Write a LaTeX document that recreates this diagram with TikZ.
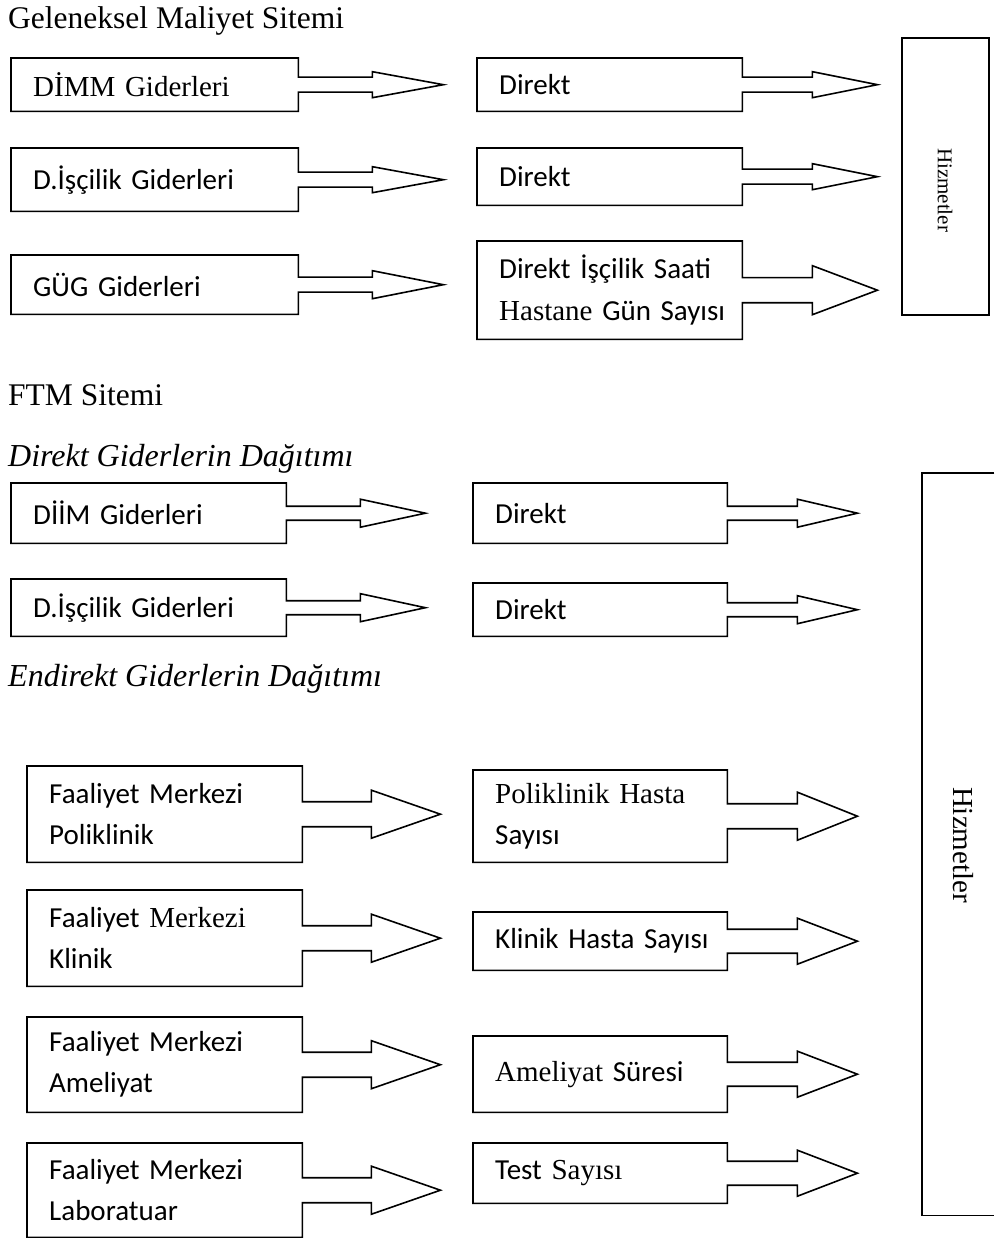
\documentclass[tikz,border=0pt]{standalone}
\usepackage{fontspec}
\setmainfont{Liberation Serif}
\setsansfont{Carlito}
\newcommand\oneline[1]{\mbox{#1}}
\begin{document}
\begin{tikzpicture}[x=1pt,y=-1pt,
  outline/.style={line width=1.6pt, line join=miter},
  box/.style={rectangle, draw=none, inner xsep=22pt, inner ysep=0pt,
    anchor=north west, align=left,
    font=\fontsize{29}{41}\selectfont\sffamily},
  title/.style={anchor=base west, inner sep=0pt,
    font=\fontsize{31.5}{36}\selectfont\rmfamily},
  ititle/.style={title, font=\fontsize{32}{36}\selectfont\rmfamily\itshape},
  hiz/.style={rotate=-90, inner sep=0pt, font=\rmfamily}]

\useasboundingbox (0,0) rectangle (994,1238);
\fill[white] (0,0) rectangle (994,1238);

% box outline with a block arrow leaving its right side:
% #1 node, #2 shaft half-height, #3 head half-height, #4 shaft length, #5 tip distance
\newcommand\callout[5]{%
  \draw[outline] (#1.north west) -- (#1.north east)
    -- ([yshift=#2pt]#1.east) -- ([xshift=#4pt,yshift=#2pt]#1.east)
    -- ([xshift=#4pt,yshift=#3pt]#1.east) -- ([xshift=#5pt]#1.east)
    -- ([xshift=#4pt,yshift=-#3pt]#1.east) -- ([xshift=#4pt,yshift=-#2pt]#1.east)
    -- ([yshift=-#2pt]#1.east) -- (#1.south east) -- (#1.south west) -- cycle;}

% ---------------- Geleneksel Maliyet Sitemi ----------------
\node[title] (t1) at (8,29) {Geleneksel Maliyet Sitemi};

\node[box, text width=243, minimum height=53] (a1) at (11,58) {\oneline{\rmfamily DİMM Giderleri}};
\node[box, text width=243, minimum height=63] (a2) at (11,148) {\oneline{D.İşçilik Giderleri}};
\node[box, text width=243, minimum height=59] (a3) at (11,255) {\oneline{GÜG Giderleri}};
\callout{a1}{7.5}{13}{74}{145}
\callout{a2}{7.5}{13}{74}{145}
\callout{a3}{7.5}{14}{74}{145}

\node[box, text width=221, minimum height=53] (b1) at (477,58) {\oneline{Direkt}};
\node[box, text width=221, minimum height=57] (b2) at (477,148) {\oneline{Direkt}};
\node[box, text width=221, minimum height=98, font=\fontsize{29}{42}\selectfont\sffamily] (b3) at (477,241)
  {\oneline{Direkt İşçilik Saati}\\\oneline{{\rmfamily Hastane} Gün Sayısı}};
\callout{b1}{7.5}{13}{70}{135}
\callout{b2}{7.5}{13}{70}{135}
\callout{b3}{12.5}{24.5}{70}{135}

\node[draw, outline, rectangle, inner sep=0pt, anchor=north west,
  minimum width=87, minimum height=277] (h1) at (901,37) {};
\node[hiz, font=\fontsize{21}{24}\selectfont\rmfamily] (h1t) at (945,190) {Hizmetler};

% ---------------- FTM Sitemi ----------------
\node[title] (t2) at (8,405) {FTM Sitemi};
\node[ititle] (t3) at (8,466) {Direkt Giderlerin Dağıtımı};

\node[box, text width=231, minimum height=60] (c1) at (11,483) {\oneline{DİİM Giderleri}};
\node[box, text width=231, minimum height=57] (c2) at (11,579) {\oneline{D.İşçilik Giderleri}};
\callout{c1}{7}{14}{74}{139}
\callout{c2}{7}{14}{74}{139}

\node[box, text width=210, minimum height=60] (d1) at (473,483) {\oneline{Direkt}};
\node[box, text width=210, minimum height=53] (d2) at (473,583) {\oneline{Direkt}};
\callout{d1}{7}{14}{70}{130}
\callout{d2}{7}{14}{70}{130}

\node[ititle] (t4) at (8,686) {Endirekt Giderlerin Dağıtımı};

\node[box, text width=231, minimum height=96] (e1) at (27,766) {\oneline{Faaliyet Merkezi}\\\oneline{Poliklinik}};
\node[box, text width=231, minimum height=96] (e2) at (27,890) {\oneline{Faaliyet {\rmfamily Merkezi}}\\\oneline{Klinik}};
\node[box, text width=231, minimum height=95] (e3) at (27,1017) {\oneline{Faaliyet Merkezi}\\\oneline{Ameliyat}};
\node[box, text width=231, minimum height=94] (e4) at (27,1143) {\oneline{Faaliyet Merkezi}\\\oneline{Laboratuar}};
\callout{e1}{12.5}{24}{69}{138}
\callout{e2}{12.5}{24}{69}{138}
\callout{e3}{12.5}{24}{69}{138}
\callout{e4}{12.5}{24}{69}{138}

\node[box, text width=210, minimum height=92] (f1) at (473,770) {\oneline{\rmfamily Poliklinik Hasta}\\\oneline{Sayısı}};
\node[box, text width=210, minimum height=58] (f2) at (473,912) {\oneline{Klinik Hasta Sayısı}};
\node[box, text width=210, minimum height=76] (f3) at (473,1036) {\oneline{{\rmfamily Ameliyat} Süresi}};
\node[box, text width=210, minimum height=60] (f4) at (473,1143) {\oneline{Test {\rmfamily Sayısı}}};
\callout{f1}{12.5}{24}{70}{130}
\callout{f2}{12}{23}{70}{130}
\callout{f3}{12}{23}{70}{130}
\callout{f4}{12}{23}{70}{130}

\node[rectangle, draw=none, inner sep=0pt, anchor=north west,
  minimum width=72, minimum height=742] (h2) at (922,473) {};
\draw[outline] (h2.north east) -- (h2.north west) -- (h2.south west) -- (h2.south east);
\node[hiz, font=\fontsize{29}{32}\selectfont\rmfamily] (h2t) at (963,845) {Hizmetler};
\end{tikzpicture}
\end{document}
